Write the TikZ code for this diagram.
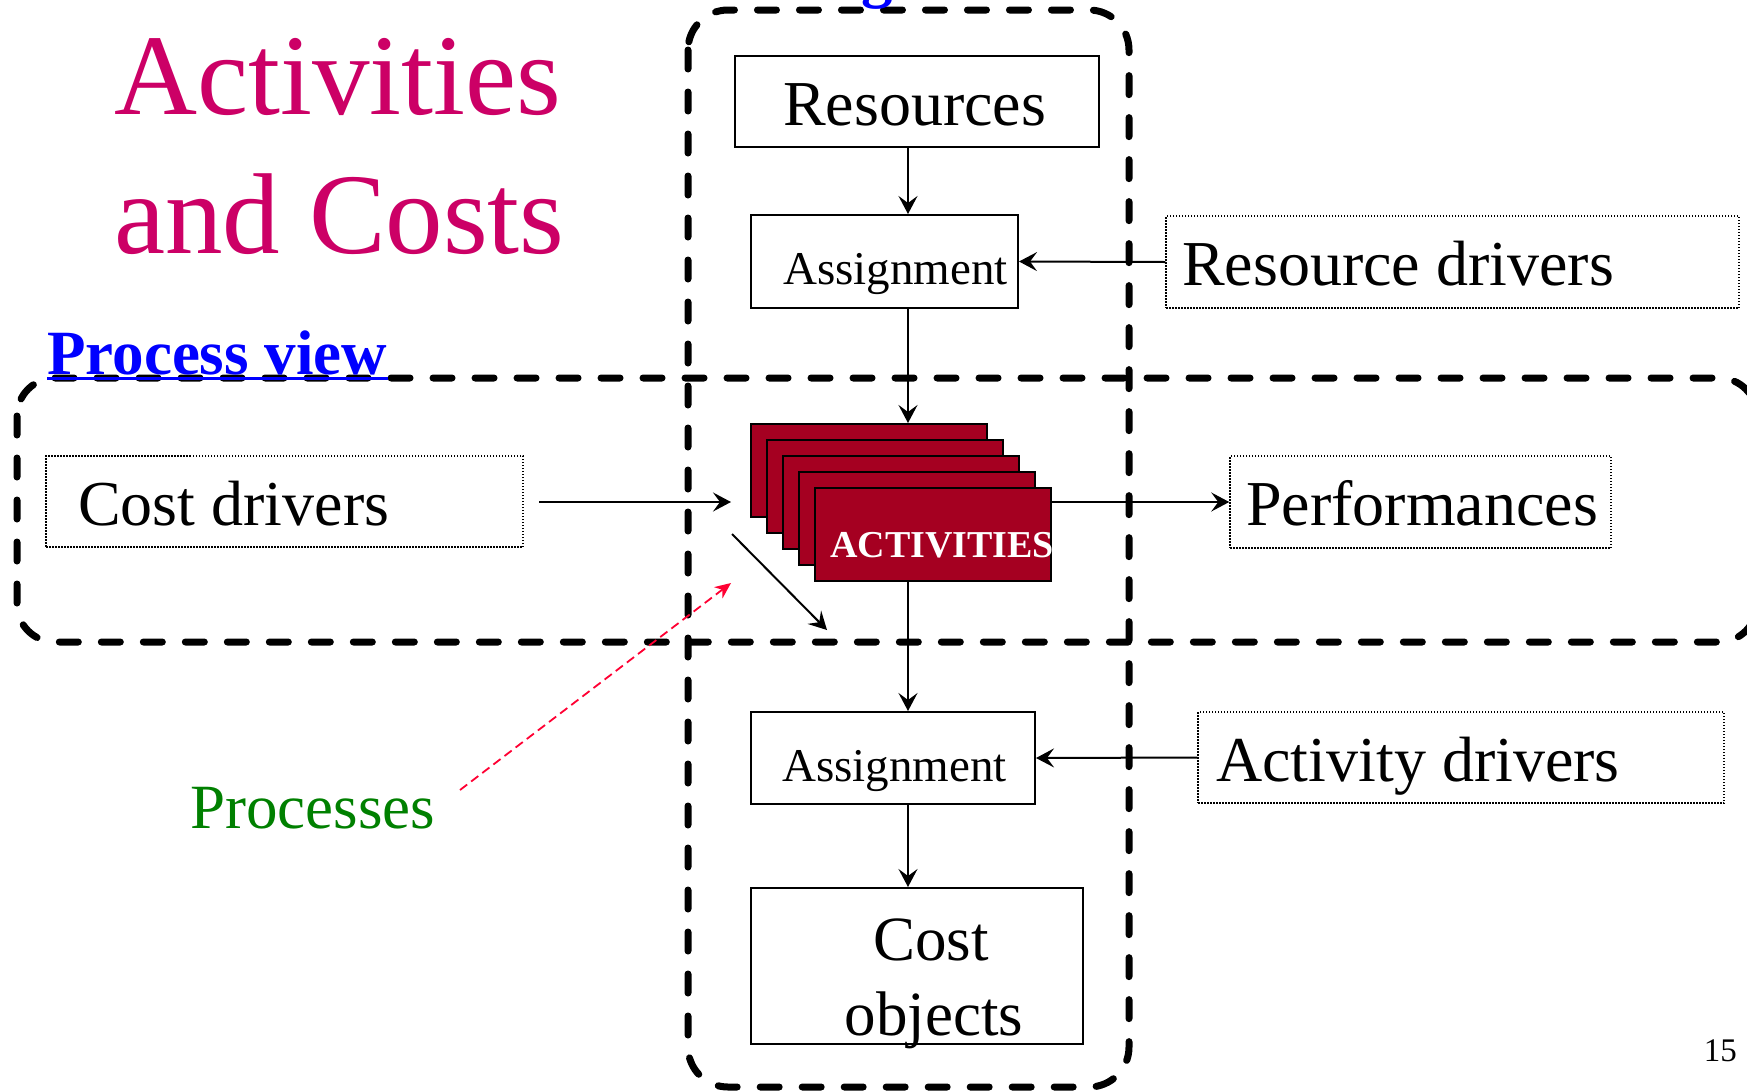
\documentclass[tikz,border=0pt]{standalone}
\usepackage{fontspec}
\setmainfont{Liberation Serif}
\usetikzlibrary{arrows.meta}
\definecolor{titlecol}{RGB}{204,0,102}
\definecolor{actfill}{RGB}{165,0,33}
\definecolor{viewblue}{RGB}{0,0,255}
\definecolor{procgreen}{RGB}{0,128,0}
\definecolor{procred}{RGB}{255,0,51}
\tikzset{
  bigdash/.style={line width=7pt, line cap=round, dash pattern=on 19pt off 23pt},
  solidbox/.style={draw, line width=2pt, inner sep=0pt},
  dotbox/.style={draw, line width=1.5pt, dash pattern=on 1.5pt off 1.5pt, inner sep=0pt},
  actbox/.style={draw, line width=2pt, fill=actfill, inner sep=0pt, minimum width=236pt, minimum height=93pt},
  txt/.style={inner sep=0pt, anchor=base west, font=\fontsize{64}{70}\selectfont},
  conn/.style={line width=2pt, -{Stealth[length=18pt,width=19pt,inset=7pt]}},
  redconn/.style={procred, line width=1.8pt, dash pattern=on 9pt off 5pt, -{Stealth[length=16pt,width=14pt,inset=5pt]}}
}
\begin{document}
\begin{tikzpicture}[x=1pt,y=-1pt]
\useasboundingbox (0,0) rectangle (1747,1090);
\fill[white] (0,0) rectangle (1747,1090);

% dashed view frames
\draw[bigdash, rounded corners=40pt] (688,10) rectangle (1129,1087);
\draw[bigdash, rounded corners=38pt] (17,378) rectangle (1757,642);

% title
\node[inner sep=0pt, anchor=base west, text=titlecol, font=\fontsize{115}{139}\selectfont] (t1) at (114,114) {Activities};
\node[inner sep=0pt, anchor=base west, text=titlecol, font=\fontsize{115}{139}\selectfont] (t2) at (114,253) {and Costs};

% cut-off blue heading at top
\node[inner sep=0pt, anchor=base, text=viewblue, font=\bfseries\fontsize{63}{70}\selectfont] (topg) at (877,-5) {g};

% Process view label
\node[inner sep=0pt, anchor=base west, text=viewblue, font=\bfseries\fontsize{63}{70}\selectfont] (pview) at (47,374) {Process view};
\draw[viewblue, line width=3pt] (pview.base west) ++(0,4) -- ++(341,0);

% boxes
\coordinate (spine) at (908,0);
\node[solidbox, minimum width=364pt, minimum height=91pt] (res) at (917,101.5) {};
\node[txt] (rest) at (783,125) {Resources};

\node[solidbox, minimum width=267pt, minimum height=93pt] (asg1) at (884.5,261.5) {};
\node[txt, font=\fontsize{47}{52}\selectfont] (asg1t) at (783,284.5) {Assignment};

\node[dotbox, minimum width=573pt, minimum height=92pt] (rd) at (1452.5,262) {};
\node[txt] (rdt) at (1182,285.5) {Resource drivers};

\node[dotbox, minimum width=477pt, minimum height=91pt] (cd) at (284.5,501.5) {};
\node[txt] (cdt) at (78,525) {Cost drivers};

\node[dotbox, minimum width=381pt, minimum height=92pt] (perf) at (1420.5,502) {};
\node[txt] (perft) at (1246,525) {Performances};

\node[solidbox, minimum width=284pt, minimum height=92pt] (asg2) at (893,758) {};
\node[txt, font=\fontsize{47}{52}\selectfont] (asg2t) at (782,781) {Assignment};

\node[dotbox, minimum width=526pt, minimum height=91pt] (ad) at (1461,757.5) {};
\node[txt] (adt) at (1216,781) {Activity drivers};

\node[solidbox, minimum width=332pt, minimum height=156pt] (cobj) at (917,966) {};
\node[txt, anchor=base, font=\fontsize{63}{70}\selectfont] (cobj1) at (931,960) {Cost};
\node[txt, anchor=base, font=\fontsize{63}{70}\selectfont] (cobj2) at (934,1035) {objects};

% activities stack
\node[actbox] (act1) at (869,470.5) {};
\node[actbox] (act2) at (885,486.5) {};
\node[actbox] (act3) at (901,502.5) {};
\node[actbox] (act4) at (917,518.5) {};
\node[actbox] (act5) at (933,534.5) {};
\node[inner sep=0pt, anchor=base west, text=white, font=\bfseries\fontsize{38}{42}\selectfont] (actt) at (830,557) {ACTIVITIES};

% other texts
\node[inner sep=0pt, anchor=base west, text=procgreen, font=\fontsize{63}{70}\selectfont] (procs) at (190,828) {Processes};
\node[inner sep=0pt, anchor=base east, font=\fontsize{33}{36}\selectfont] (pageno) at (1737,1061) {15};

% connectors
\draw[conn] (res.south -| spine) -- (asg1.north -| spine);
\draw[conn] (asg1.south -| spine) -- (act1.north -| spine);
\draw[conn] (act5.south -| spine) -- (asg2.north -| spine);
\draw[conn] (asg2.south -| spine) -- (cobj.north -| spine);
\draw[conn] (rd.west) -- (asg1.east);
\draw[conn] (ad.west) -- (asg2.east);
\draw[conn] (act5.east |- perf.west) -- (perf.west);

\coordinate (cdstart) at (539,502);
\coordinate (cdend) at (731,502);
\draw[conn] (cdstart) -- (cdend);

\coordinate (diagA) at (732,534);
\coordinate (diagB) at (827,630);
\draw[conn] (diagA) -- (diagB);

\coordinate (redA) at (460,790);
\coordinate (redB) at (731,583);
\draw[redconn] (redA) -- (redB);
\end{tikzpicture}
\end{document}
